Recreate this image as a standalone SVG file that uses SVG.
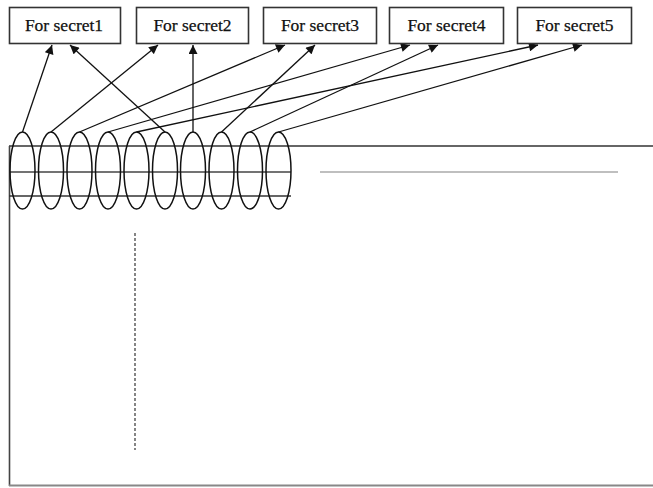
<svg xmlns="http://www.w3.org/2000/svg" width="653" height="488" viewBox="0 0 653 488">
  <style>
    .box rect { fill: #fff; stroke: #333; stroke-width: 1.6; }
    .box text { font-family: "Liberation Serif", "Times New Roman", serif; font-size: 17.5px; fill: #111; stroke: #111; stroke-width: 0.25; text-anchor: middle; }
    .coil ellipse { fill: none; stroke: #111; stroke-width: 1.5; }
    .edge { stroke: #111; stroke-width: 1.3; fill: none; marker-end: url(#head); }
  </style>
  <defs>
    <marker id="head" viewBox="0 0 10 10" refX="10" refY="5" markerWidth="10" markerHeight="9" markerUnits="userSpaceOnUse" orient="auto">
      <path d="M0,0 L10,5 L0,10 Z" fill="#111"/>
    </marker>
  </defs>

  <rect width="653" height="488" fill="#fff"/>

  <!-- outer frame -->
  <g id="frame" fill="none">
    <line x1="9" y1="146" x2="653" y2="146" stroke="#333" stroke-width="1.6"/>
    <line x1="9.5" y1="146" x2="9.5" y2="486" stroke="#444" stroke-width="1.6"/>
    <line x1="9" y1="485.5" x2="653" y2="485.5" stroke="#888" stroke-width="2"/>
    <line x1="9" y1="172" x2="291" y2="172" stroke="#444" stroke-width="1.6"/>
    <line x1="9" y1="196" x2="291" y2="196" stroke="#333" stroke-width="1.4"/>
    <line x1="320" y1="172" x2="618" y2="172" stroke="#aaa" stroke-width="1.6"/>
    <line x1="135" y1="233" x2="135" y2="450" stroke="#444" stroke-width="1.3" stroke-dasharray="3 2"/>
  </g>

  <!-- ring of ten loops -->
  <g id="coil" class="coil">
    <ellipse cx="22.5" cy="170.5" rx="12.5" ry="38.5"/>
    <ellipse cx="51" cy="170.5" rx="12.5" ry="38.5"/>
    <ellipse cx="79.5" cy="170.5" rx="12.5" ry="38.5"/>
    <ellipse cx="108" cy="170.5" rx="12.5" ry="38.5"/>
    <ellipse cx="136.5" cy="170.5" rx="12.5" ry="38.5"/>
    <ellipse cx="165" cy="170.5" rx="12.5" ry="38.5"/>
    <ellipse cx="193" cy="170.5" rx="12.5" ry="38.5"/>
    <ellipse cx="221.5" cy="170.5" rx="12.5" ry="38.5"/>
    <ellipse cx="250" cy="170.5" rx="12.5" ry="38.5"/>
    <ellipse cx="278.5" cy="170.5" rx="12.5" ry="38.5"/>
  </g>

  <!-- connectors from loops to secret boxes -->
  <g id="connectors">
    <line class="edge" x1="22.5" y1="132" x2="52" y2="45"/>
    <line class="edge" x1="165" y1="132" x2="70" y2="45"/>
    <line class="edge" x1="51" y1="132" x2="158" y2="45"/>
    <line class="edge" x1="193" y1="132" x2="193" y2="45"/>
    <line class="edge" x1="79.5" y1="132" x2="285" y2="45"/>
    <line class="edge" x1="221.5" y1="132" x2="315" y2="45"/>
    <line class="edge" x1="108" y1="132" x2="410" y2="45"/>
    <line class="edge" x1="250" y1="132" x2="438" y2="45"/>
    <line class="edge" x1="136.5" y1="132" x2="538" y2="45"/>
    <line class="edge" x1="278.5" y1="132" x2="582" y2="45"/>
  </g>

  <g id="secret1" class="box">
    <rect x="9.5" y="7.5" width="111" height="36"/>
    <text x="64" y="31">For secret1</text>
  </g>
  <g id="secret2" class="box">
    <rect x="136.5" y="7.5" width="112" height="36"/>
    <text x="192.5" y="31">For secret2</text>
  </g>
  <g id="secret3" class="box">
    <rect x="263.5" y="7.5" width="113" height="36"/>
    <text x="320" y="31">For secret3</text>
  </g>
  <g id="secret4" class="box">
    <rect x="389.5" y="7.5" width="114" height="36"/>
    <text x="446.5" y="31">For secret4</text>
  </g>
  <g id="secret5" class="box">
    <rect x="517.5" y="7.5" width="114" height="36"/>
    <text x="574.5" y="31">For secret5</text>
  </g>
</svg>
